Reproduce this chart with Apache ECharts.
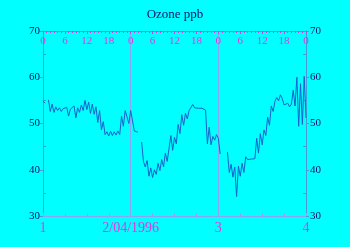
<!DOCTYPE html>
<html><head><meta charset="utf-8">
<script src="https://cdn.jsdelivr.net/npm/echarts@6/dist/echarts.min.js"></script>
<style>html,body{margin:0;padding:0;background:#00ffff;}#c{width:350px;height:247px;}</style>
</head><body><div id="c"></div>
<script>
// Half-hourly ozone readings (ppb), 1 Apr 00:00 to 4 Apr 00:00 1996; null = missing
const stepHours = 0.5;
const ozone = [
  54.9, 54.4, null, 55.1, 52.6, 54.2, 52.4, 53.6, 52.8, 53.4, 52.6, 53.2,
  52.9, 53.5, 51.6, 53.1, 52.7, 53.8, 51.2, 53.4, 52.4, 54.0, 52.8, 55.0,
  53.0, 54.6, 52.2, 54.2, 52.0, 53.6, 50.2, 52.8, 48.6, 50.4, 47.6, 48.2,
  47.3, 48.3, 47.4, 48.2, 47.5, 48.4, 47.6, 51.6, 49.4, 52.8, 52.9, 50.0,
  52.8, 52.4, 48.4, 48.2, 48.1, null, 46.0, 41.8, 40.6, 42.0, 38.6, 40.4,
  38.3, 40.0, 39.0, 41.4, 39.8, 42.2, 40.6, 43.6, 41.8, 44.6, 47.4, 44.2,
  47.0, 45.6, 49.8, 47.8, 51.9, 49.6, 52.2, 51.0, 52.8, 52.4, 54.1, 53.4,
  53.3, 53.3, 53.2, 53.3, 53.2, 52.9, 45.6, 49.2, 45.4, 47.2, 46.4, 47.6,
  46.8, 43.4, null, null, null, 43.8, 39.4, 41.2, 38.4, 40.6, 34.2, 40.8,
  38.6, 41.4, 39.4, 42.8, 42.2, 42.6, 42.3, 42.7, 42.4, 46.8, 43.6, 47.8,
  45.4, 48.6, 47.4, 51.4, 49.6, 53.8, 52.6, 54.8, 55.6, 54.9, 56.2, 55.4,
  54.0, 53.6, 54.4, 53.6, 54.2, 57.2, 53.8, 60.0, 49.4, 58.6, 49.8, 60.2,
  51.2
];
const dayLabels = ['1', '2/04/1996', '3', '4'];
const hourLabels = ['0', '6', '12', '18'];
const yTicks = [30, 40, 50, 60, 70];

const serif = '"Liberation Serif", "DejaVu Serif", serif';
const magenta = '#e633e6';
const navy = '#101070';
const axisBlue = '#4a9ad8';
const dayLine = '#8aa6f2';

const seriesData = ozone.map((v, i) => [i * stepHours, v == null ? '-' : v]);

function yMain(pos) {
  return {
    type: 'value', position: pos, min: yTicks[0], max: yTicks[yTicks.length - 1], interval: 10,
    axisLine: { show: true, lineStyle: { color: axisBlue, width: 1 } },
    axisTick: { show: true, inside: false, length: 3, lineStyle: { color: axisBlue } },
    axisLabel: { show: true, margin: pos === 'left' ? 3 : 4, color: navy, fontFamily: serif, fontSize: 11 },
    splitLine: { show: false }
  };
}
function yMinor(pos) {
  return {
    type: 'value', position: pos, min: yTicks[0], max: yTicks[yTicks.length - 1], interval: 10,
    axisLine: { show: false },
    axisTick: { show: false, inside: true },
    minorTick: { show: true, splitNumber: 2, length: 3, lineStyle: { color: axisBlue } },
    axisLabel: { show: false },
    splitLine: { show: false }
  };
}

const chart = echarts.init(document.getElementById('c'), null, { renderer: 'canvas' });
chart.setOption({
  backgroundColor: '#00ffff',
  animation: false,
  title: {
    text: 'Ozone ppb', left: 'center', top: 8, padding: 0,
    textStyle: { color: navy, fontFamily: serif, fontSize: 13, fontWeight: 'normal' }
  },
  grid: { left: 43, right: 44, top: 31, bottom: 31, containLabel: false },
  xAxis: [
    {
      type: 'value', position: 'bottom', min: 0, max: 72, interval: 24,
      axisLine: { show: true, lineStyle: { color: dayLine, width: 1 } },
      axisTick: { show: true, inside: true, length: 3, lineStyle: { color: dayLine } },
      minorTick: { show: true, splitNumber: 4, length: 3, lineStyle: { color: dayLine } },
      axisLabel: {
        show: true, margin: 5, color: magenta, fontFamily: serif, fontSize: 14,
        formatter: v => dayLabels[Math.round(v / 24)]
      },
      splitLine: { show: true, lineStyle: { color: dayLine, width: 1 } }
    },
    {
      type: 'value', position: 'top', min: 0, max: 72, interval: 6,
      axisLine: { show: true, lineStyle: { color: axisBlue, width: 1 } },
      axisTick: { show: true, inside: true, length: 3, lineStyle: { color: magenta } },
      minorTick: { show: true, splitNumber: 6, length: 2, lineStyle: { color: magenta } },
      axisLabel: {
        show: true, inside: true, margin: 5, color: magenta, fontFamily: serif, fontSize: 11,
        formatter: v => hourLabels[Math.round(v / 6) % 4]
      },
      splitLine: { show: false }
    }
  ],
  yAxis: [yMain('left'), yMinor('left'), yMain('right'), yMinor('right')],
  series: [{
    type: 'line', xAxisIndex: 0, yAxisIndex: 0,
    data: seriesData, showSymbol: false, connectNulls: false,
    lineStyle: { color: '#1a62cc', width: 1 }, itemStyle: { color: '#1a62cc' }
  }]
});
</script>
</body></html>
